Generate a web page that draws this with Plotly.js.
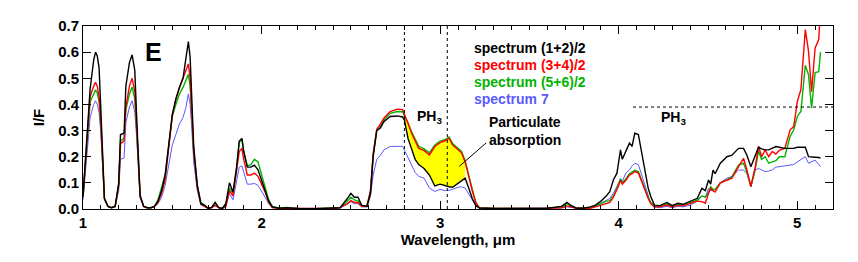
<!DOCTYPE html>
<html>
<head>
<meta charset="utf-8">
<script src="https://cdn.plot.ly/plotly-3.0.1.min.js"></script>
<style>html,body{margin:0;padding:0;background:#fff;}#chart{width:858px;height:262px;}</style>
</head>
<body>
<div id="chart"></div>
<script>
// Wavelength grid (micron)
const wavelength = [
1.00,1.02,1.04,1.06,1.07,1.08,1.09,1.10,1.11,1.12,1.14,1.16,1.18,1.20,1.21,1.23,1.24,1.26,1.275,1.29,
1.30,1.31,1.32,1.34,1.36,1.38,1.40,1.42,1.44,1.46,1.48,1.50,1.52,1.54,1.56,1.575,1.59,1.60,1.61,1.62,
1.64,1.66,1.68,1.70,1.72,1.74,1.76,1.78,1.80,1.82,1.84,1.86,1.875,1.89,1.90,1.92,1.94,1.96,1.98,2.00,
2.02,2.04,2.06,2.10,2.14,2.20,2.30,2.40,2.44,2.48,2.50,2.52,2.54,2.56,2.59,2.61,2.625,2.645,2.665,2.685,
2.72,2.76,2.79,2.80,2.82,2.84,2.86,2.88,2.91,2.94,2.97,3.00,3.03,3.05,3.07,3.10,3.12,3.14,3.16,3.18,
3.20,3.22,3.30,3.40,3.50,3.60,3.68,3.71,3.73,3.76,3.80,3.84,3.87,3.90,3.93,3.95,3.97,3.99,4.00,4.01,
4.02,4.04,4.06,4.075,4.09,4.11,4.13,4.15,4.165,4.18,4.20,4.23,4.27,4.30,4.33,4.36,4.40,4.44,4.466,4.485,
4.503,4.515,4.528,4.54,4.569,4.606,4.634,4.671,4.699,4.718,4.74,4.765,4.783,4.80,4.82,4.84,4.86,4.88,4.90,4.93,
4.96,4.98,5.00,5.02,5.045,5.063,5.08,5.10,5.12,5.13];

// spectrum (1+2)/2  (black)
const spec12 = [
.047,.25,.46,.57,.60,.585,.54,.38,.17,.04,.01,.005,.01,.10,.285,.29,.47,.56,.59,.53,
.36,.17,.05,.01,.005,.005,.01,.03,.07,.13,.25,.36,.42,.465,.50,.57,.64,.58,.40,.24,
.09,.02,.015,.003,.005,.025,.005,.002,.02,.10,.065,.16,.26,.27,.22,.16,.16,.168,.15,.11,
.07,.03,.008,.003,.005,.002,.001,.002,.005,.04,.06,.045,.045,.015,.01,.06,.20,.30,.31,.334,
.354,.356,.352,.34,.27,.23,.19,.17,.155,.13,.088,.095,.088,.085,.083,.098,.11,.118,.08,.04,
.012,.004,.002,.002,.002,.003,.01,.025,.015,.004,.003,.008,.015,.03,.05,.066,.111,.137,.181,.226,
.19,.219,.252,.24,.29,.285,.213,.14,.08,.047,.015,.013,.025,.013,.022,.018,.028,.041,.079,.07,
.111,.095,.149,.135,.175,.20,.206,.232,.232,.206,.162,.206,.236,.23,.226,.226,.232,.239,.236,.232,
.232,.232,.236,.236,.236,.20,.20,.198,.197,.195];

// spectrum (3+4)/2  (red)
const spec34 = [
.05,.25,.43,.47,.485,.47,.43,.33,.16,.04,.01,.005,.01,.09,.25,.26,.39,.47,.50,.45,
.32,.15,.05,.01,.005,.005,.01,.025,.06,.11,.24,.36,.42,.465,.50,.53,.555,.50,.36,.22,
.085,.02,.01,.003,.005,.015,.005,.002,.01,.07,.05,.14,.22,.232,.19,.13,.13,.137,.125,.095,
.065,.025,.005,.003,.003,.002,.001,.002,.005,.02,.032,.025,.025,.01,.01,.07,.21,.305,.325,.347,
.373,.382,.38,.36,.328,.29,.26,.232,.223,.207,.239,.254,.262,.271,.245,.225,.215,.18,.12,.07,
.023,.004,.002,.002,.002,.003,.005,.012,.008,.004,.003,.003,.008,.015,.022,.025,.045,.072,.09,.11,
.095,.11,.13,.135,.143,.138,.10,.065,.04,.02,.008,.008,.015,.008,.014,.012,.022,.03,.028,.022,
.06,.079,.07,.065,.10,.111,.118,.162,.194,.149,.086,.162,.24,.20,.226,.20,.22,.21,.225,.232,
.303,.315,.411,.456,.686,.603,.449,.616,.648,.76];

// spectrum (5+6)/2  (green)
const spec56 = [
.05,.24,.41,.44,.456,.445,.41,.32,.16,.04,.01,.005,.01,.09,.26,.27,.38,.44,.467,.42,
.31,.15,.05,.01,.005,.005,.01,.035,.08,.13,.24,.355,.40,.44,.465,.49,.515,.47,.35,.22,
.09,.025,.015,.003,.005,.025,.005,.002,.02,.08,.06,.15,.255,.265,.22,.165,.17,.19,.18,.13,
.08,.035,.01,.003,.006,.002,.001,.002,.005,.03,.045,.035,.03,.012,.01,.07,.21,.30,.315,.34,
.366,.373,.372,.355,.33,.295,.265,.24,.23,.215,.245,.26,.266,.275,.25,.23,.22,.185,.125,.075,
.025,.004,.002,.002,.002,.003,.008,.02,.012,.004,.003,.005,.012,.02,.03,.032,.05,.08,.095,.115,
.10,.115,.135,.14,.148,.143,.105,.07,.045,.025,.012,.01,.02,.01,.018,.015,.025,.035,.05,.045,
.065,.085,.075,.075,.10,.111,.124,.168,.175,.14,.086,.155,.222,.19,.20,.175,.18,.185,.20,.20,
.278,.303,.354,.373,.55,.513,.386,.522,.525,.60];

// spectrum 7  (blue)
const spec7 = [
.035,.18,.35,.40,.414,.40,.37,.29,.14,.035,.008,.005,.01,.07,.19,.195,.33,.39,.414,.37,
.28,.13,.04,.01,.005,.005,.01,.02,.045,.09,.16,.245,.285,.325,.35,.385,.44,.40,.30,.18,
.07,.015,.01,.003,.005,.012,.005,.002,.01,.06,.035,.10,.16,.165,.14,.095,.095,.098,.09,.07,
.045,.02,.005,.003,.003,.002,.001,.002,.005,.018,.028,.02,.02,.008,.008,.05,.13,.19,.205,.226,
.239,.241,.24,.225,.195,.165,.14,.125,.118,.08,.067,.075,.07,.072,.075,.083,.085,.08,.06,.035,
.012,.004,.002,.002,.002,.003,.004,.008,.006,.004,.003,.006,.012,.022,.032,.04,.06,.085,.10,.117,
.105,.138,.149,.165,.175,.17,.125,.08,.05,.02,.008,.005,.01,.005,.01,.008,.015,.03,.05,.045,
.079,.07,.072,.075,.10,.118,.124,.149,.149,.135,.086,.149,.155,.15,.143,.145,.15,.16,.162,.165,
.168,.17,.18,.19,.20,.175,.18,.187,.17,.162];

const seriesNames = ['spectrum (1+2)/2','spectrum (3+4)/2','spectrum (5+6)/2','spectrum 7'];
const seriesColors = ['#000000','#ff0000','#00b400','#5a5aff'];
const seriesData = [spec12, spec34, spec56, spec7];

// Particulate absorption band (micron) and PH3 markers
const absorptionBand = [2.80, 3.14];
const ph3Lines = [2.80, 3.04];
const ph3Level = 0.39;
const ph3LevelStart = 4.08;

// Fill polygon built from the series: upper = max(red, green), lower = black
const fx = [], fyUp = [], fyLo = [];
wavelength.forEach((w,i)=>{
  if (w >= absorptionBand[0]-1e-9 && w <= absorptionBand[1]+1e-9) {
    fx.push(w); fyUp.push(Math.max(spec34[i], spec56[i])); fyLo.push(spec12[i]);
  }
});
const polyX = fx.concat(fx.slice().reverse());
const polyY = fyUp.concat(fyLo.slice().reverse());

const font = {family:'Liberation Sans, Arial, sans-serif', weight:'bold', color:'#000'};

const traces = [{
  x: polyX, y: polyY, mode:'lines', fill:'toself', fillcolor:'#ffff00',
  line:{width:0, color:'rgba(0,0,0,0)'}, hoverinfo:'skip', showlegend:false
}];
// draw order: blue, green, red, black on top
[3,2,1,0].forEach(k=>{
  traces.push({x: wavelength, y: seriesData[k], mode:'lines', name: seriesNames[k],
    line:{color: seriesColors[k], width: k===3 ? 1 : 1.4}, showlegend:false});
});

const shapes = ph3Lines.map(x=>({type:'line', xref:'x', yref:'paper', x0:x, x1:x, y0:0, y1:1,
  line:{color:'#000', width:1, dash:'dot'}}));
shapes.push({type:'line', xref:'x', yref:'y', x0:ph3LevelStart, x1:5.2, y0:ph3Level, y1:ph3Level,
  line:{color:'#000', width:1, dash:'dot'}});
shapes.push({type:'line', xref:'x', yref:'y', x0:3.258, y0:0.253, x1:3.107, y1:0.163,
  line:{color:'#000', width:1}});

const legendY = [47.5, 64.5, 81.5, 98.5];
const annotations = seriesNames.map((n,k)=>({
  text:n, xref:'paper', yref:'paper', x:(472-83)/750, y:(209-legendY[k])/183,
  xanchor:'left', yanchor:'middle', showarrow:false,
  font:Object.assign({}, font, {size:14, color:seriesColors[k]})
}));
annotations.push({text:'E', xref:'paper', yref:'paper', x:(153.5-83)/750, y:(209-51.5)/183,
  xanchor:'center', yanchor:'middle', showarrow:false, font:Object.assign({}, font, {size:25})});
annotations.push({text:'PH<sub>3</sub>', xref:'x', yref:'y', x:2.86, y:0.352,
  xanchor:'left', yanchor:'middle', showarrow:false, font:Object.assign({}, font, {size:14})});
annotations.push({text:'PH<sub>3</sub>', xref:'x', yref:'y', x:4.225, y:0.35,
  xanchor:'left', yanchor:'middle', showarrow:false, font:Object.assign({}, font, {size:14})});
annotations.push({text:'Particulate<br>absorption', xref:'x', yref:'y', x:3.26, y:0.299,
  xanchor:'left', yanchor:'middle', align:'left', showarrow:false, font:Object.assign({}, font, {size:14})});

const layout = {
  width:858, height:262,
  margin:{l:83, r:25, t:26, b:53},
  paper_bgcolor:'#fff', plot_bgcolor:'#fff',
  font: Object.assign({}, font, {size:15}),
  showlegend:false,
  xaxis:{range:[1,5.2], tickvals:[1,2,3,4,5], ticktext:['1','2','3','4','5'],
    ticks:'inside', ticklen:8, tickwidth:1, tickcolor:'#000',
    minor:{dtick:0.1, tick0:1, ticks:'inside', ticklen:4, tickcolor:'#000', tickwidth:1},
    showline:true, linecolor:'#000', linewidth:1, mirror:'allticks', showgrid:false, zeroline:false,
    tickfont:Object.assign({}, font, {size:15}),
    title:{text:'Wavelength, μm', font:Object.assign({}, font, {size:15}), standoff:4}},
  yaxis:{range:[0,0.7], tickvals:[0,0.1,0.2,0.3,0.4,0.5,0.6,0.7],
    ticktext:['0.0','0.1','0.2','0.3','0.4','0.5','0.6','0.7'],
    ticks:'inside', ticklen:8, tickwidth:1, tickcolor:'#000',
    showline:true, linecolor:'#000', linewidth:1, mirror:'allticks', showgrid:false, zeroline:false,
    tickfont:Object.assign({}, font, {size:15}),
    title:{text:'I/F', font:Object.assign({}, font, {size:15}), standoff:9}},
  shapes: shapes,
  annotations: annotations
};

Plotly.newPlot('chart', traces, layout, {staticPlot:true, displayModeBar:false});
</script>
</body>
</html>
